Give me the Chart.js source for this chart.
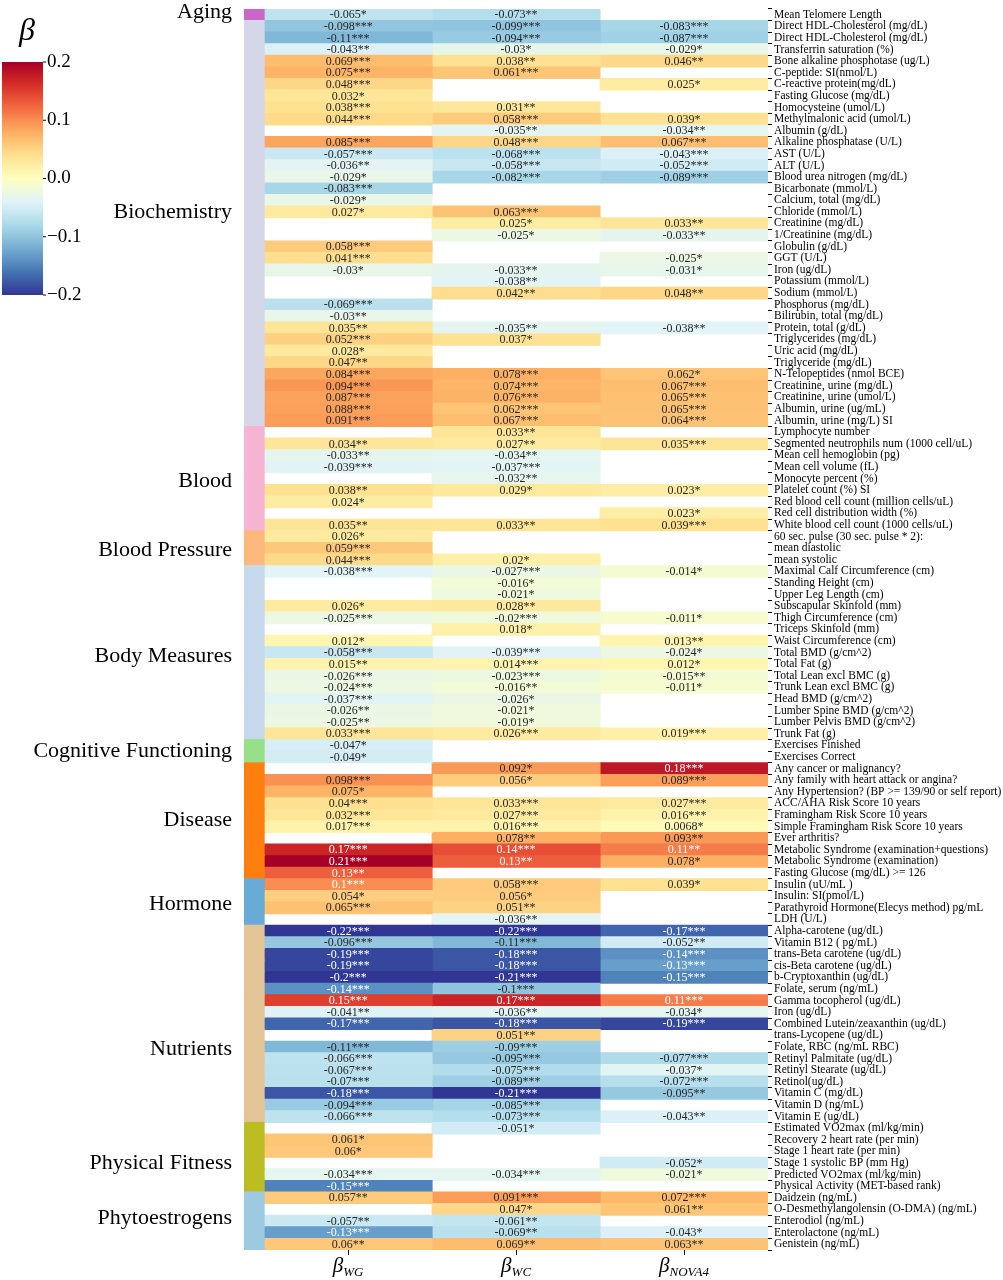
<!DOCTYPE html>
<html><head><meta charset="utf-8">
<script src="https://cdn.jsdelivr.net/npm/chart.js@4.4.0/dist/chart.umd.min.js"></script>
<style>html,body{margin:0;padding:0;background:#fff}#wrap{position:relative;width:1003px;height:1280px}</style>
</head><body><div id="wrap"><canvas id="c"></canvas></div>
<script>
const labels = ['Mean Telomere Length','Direct HDL-Cholesterol (mg/dL)','Direct HDL-Cholesterol (mg/dL)','Transferrin saturation (%)','Bone alkaline phosphotase (ug/L)','C-peptide: SI(nmol/L)','C-reactive protein(mg/dL)','Fasting Glucose (mg/dL)','Homocysteine (umol/L)','Methylmalonic acid (umol/L)',
'Albumin (g/dL)','Alkaline phosphatase (U/L)','AST (U/L)','ALT (U/L)','Blood urea nitrogen (mg/dL)','Bicarbonate (mmol/L)','Calcium, total (mg/dL)','Chloride (mmol/L)','Creatinine (mg/dL)','1/Creatinine (mg/dL)',
'Globulin (g/dL)','GGT (U/L)','Iron (ug/dL)','Potassium (mmol/L)','Sodium (mmol/L)','Phosphorus (mg/dL)','Bilirubin, total (mg/dL)','Protein, total (g/dL)','Triglycerides (mg/dL)','Uric acid (mg/dL)',
'Triglyceride (mg/dL)','N-Telopeptides (nmol BCE)','Creatinine, urine (mg/dL)','Creatinine, urine (umol/L)','Albumin, urine (ug/mL)','Albumin, urine (mg/L) SI',
'Lymphocyte number','Segmented neutrophils num (1000 cell/uL)','Mean cell hemoglobin (pg)','Mean cell volume (fL)','Monocyte percent (%)','Platelet count (%) SI','Red blood cell count (million cells/uL)','Red cell distribution width (%)','White blood cell count (1000 cells/uL)',
'60 sec. pulse (30 sec. pulse * 2):','mean diastolic','mean systolic',
'Maximal Calf Circumference (cm)','Standing Height (cm)','Upper Leg Length (cm)','Subscapular Skinfold (mm)','Thigh Circumference (cm)','Triceps Skinfold (mm)','Waist Circumference (cm)','Total BMD (g/cm^2)','Total Fat (g)','Total Lean excl BMC (g)','Trunk Lean excl BMC (g)','Head BMD (g/cm^2)','Lumber Spine BMD (g/cm^2)','Lumber Pelvis BMD (g/cm^2)','Trunk Fat (g)',
'Exercises Finished','Exercises Correct',
'Any cancer or malignancy?','Any family with heart attack or angina?','Any Hypertension? (BP >= 139/90 or self report)','ACC/AHA Risk Score 10 years','Framingham Risk Score 10 years','Simple Framingham Risk Score 10 years','Ever arthritis?','Metabolic Syndrome (examination+questions)','Metabolic Syndrome (examination)','Fasting Glucose (mg/dL) >= 126',
'Insulin (uU/mL )','Insulin: SI(pmol/L)','Parathyroid Hormone(Elecys method) pg/mL','LDH (U/L)',
'Alpha-carotene (ug/dL)','Vitamin B12 ( pg/mL)','trans-Beta carotene (ug/dL)','cis-Beta carotene (ug/dL)','b-Cryptoxanthin (ug/dL)','Folate, serum (ng/mL)','Gamma tocopherol (ug/dL)','Iron (ug/dL)','Combined Lutein/zeaxanthin (ug/dL)','trans-Lycopene (ug/dL)','Folate, RBC (ng/mL RBC)','Retinyl Palmitate (ug/dL)','Retinyl Stearate (ug/dL)','Retinol(ug/dL)','Vitamin C (mg/dL)','Vitamin D (ng/mL)','Vitamin E (ug/dL)',
'Estimated VO2max (ml/kg/min)','Recovery 2 heart rate (per min)','Stage 1 heart rate (per min)','Stage 1 systolic BP (mm Hg)','Predicted VO2max (ml/kg/min)','Physical Activity (MET-based rank)',
'Daidzein (ng/mL)','O-Desmethylangolensin (O-DMA) (ng/mL)','Enterodiol (ng/mL)','Enterolactone (ng/mL)','Genistein (ng/mL)'];

const groupNames = ['Aging','Biochemistry','Blood','Blood Pressure','Body Measures','Cognitive Functioning','Disease','Hormone','Nutrients','Physical Fitness','Phytoestrogens'];
const groupSizes = [1,35,9,3,15,2,10,4,17,6,5];

const columnNames = ['WG','WC','NOVA4'];

const wgValues = [-0.065,-0.098,-0.11,-0.043,0.069,0.075,0.048,0.032,0.038,0.044,
null,0.085,-0.057,-0.036,-0.029,-0.083,-0.029,0.027,null,null,
0.058,0.041,-0.03,null,null,-0.069,-0.03,0.035,0.052,0.028,
0.047,0.084,0.094,0.087,0.088,0.091,
null,0.034,-0.033,-0.039,null,0.038,0.024,null,0.035,
0.026,0.059,0.044,
-0.038,null,null,0.026,-0.025,null,0.012,-0.058,0.015,-0.026,-0.024,-0.037,-0.026,-0.025,0.033,
-0.047,-0.049,
null,0.098,0.075,0.04,0.032,0.017,null,0.17,0.21,0.13,
0.1,0.054,0.065,null,
-0.22,-0.096,-0.19,-0.19,-0.2,-0.14,0.15,-0.041,-0.17,null,-0.11,-0.066,-0.067,-0.07,-0.18,-0.094,-0.066,
null,0.061,0.06,null,-0.034,-0.15,
0.057,null,-0.057,-0.13,0.06];
const wgStars = ['*','***','***','**','***','***','***','*','***','***',
'','***','***','**','*','***','*','*','','',
'***','***','*','','','***','**','**','***','*',
'**','***','***','***','***','***',
'','**','**','***','','**','*','','**',
'*','***','***',
'***','','','*','***','','*','***','**','***','***','***','**','**','***',
'*','*',
'','***','*','***','***','***','','***','***','**',
'***','*','***','',
'***','***','***','***','***','***','***','**','***','','***','***','***','***','***','***','***',
'','*','*','','***','***',
'**','','**','***','**'];

const wcValues = [-0.073,-0.099,-0.094,-0.03,0.038,0.061,null,null,0.031,0.058,
-0.035,0.048,-0.068,-0.058,-0.082,null,null,0.063,0.025,-0.025,
null,null,-0.033,-0.038,0.042,null,null,-0.035,0.037,null,
null,0.078,0.074,0.076,0.062,0.067,
0.033,0.027,-0.034,-0.037,-0.032,0.029,null,null,0.033,
null,null,0.02,
-0.027,-0.016,-0.021,0.028,-0.02,0.018,null,-0.039,0.014,-0.023,-0.016,-0.026,-0.021,-0.019,0.026,
null,null,
0.092,0.056,null,0.033,0.027,0.016,0.078,0.14,0.13,null,
0.058,0.056,0.051,-0.036,
-0.22,-0.11,-0.18,-0.18,-0.21,-0.1,0.17,-0.036,-0.18,0.051,-0.09,-0.095,-0.075,-0.089,-0.21,-0.085,-0.073,
-0.051,null,null,null,-0.034,null,
0.091,0.047,-0.061,-0.069,0.069];
const wcStars = ['**','***','***','*','**','***','','','**','***',
'**','***','***','***','***','','','***','*','*',
'','','**','**','**','','','**','*','',
'','***','***','***','***','***',
'**','**','**','***','**','*','','','**',
'','','*',
'***','*','*','**','***','*','','***','***','***','**','*','*','*','***',
'','',
'*','*','','***','***','***','**','***','**','',
'***','*','**','**',
'***','***','***','***','***','***','***','**','***','**','***','***','***','***','***','***','***',
'*','','','','***','',
'***','*','**','**','**'];

const nova4Values = [null,-0.083,-0.087,-0.029,0.046,null,0.025,null,null,0.039,
-0.034,0.067,-0.043,-0.052,-0.089,null,null,null,0.033,-0.033,
null,-0.025,-0.031,null,0.048,null,null,-0.038,null,null,
null,0.062,0.067,0.065,0.065,0.064,
null,0.035,null,null,null,0.023,null,0.023,0.039,
null,null,null,
-0.014,null,null,null,-0.011,null,0.013,-0.024,0.012,-0.015,-0.011,null,null,null,0.019,
null,null,
0.18,0.089,null,0.027,0.016,0.0068,0.093,0.11,0.078,null,
0.039,null,null,null,
-0.17,-0.052,-0.14,-0.13,-0.15,null,0.11,-0.034,-0.19,null,null,-0.077,-0.037,-0.072,-0.095,null,-0.043,
null,null,null,-0.052,-0.021,null,
0.072,0.061,null,-0.043,0.063];
const nova4Stars = ['','***','***','*','**','','*','','','*',
'**','***','***','***','***','','','','**','**',
'','*','*','','**','','','**','','',
'','*','***','***','***','***',
'','***','','','','*','','*','***',
'','','',
'*','','','','*','','**','*','*','**','*','','','','***',
'','',
'***','***','','***','***','*','**','**','*','',
'*','','','',
'***','**','***','***','***','','***','*','***','','','***','*','***','**','','**',
'','','','*','*','',
'***','**','','*','**'];

const colorbarTicks = [0.2, 0.1, 0.0, -0.1, -0.2];

// ---- styling ----
const groupColors = ['#c966c6','#d6d6e9','#f5b5d2','#fdb97c','#c6d8ec','#98df8a','#ff7f0e','#67abd6','#e3c597','#bcbd22','#9ecae1'];
const groupLabelOffsets = [-2,-11,3,2,4,0,-1,2,25,6,-3];
const stops = ['#313695','#4575b4','#74add1','#abd9e9','#e0f3f8','#ffffbf','#fee090','#fdae61','#f46d43','#d73027','#a50026'].map(h=>[parseInt(h.slice(1,3),16),parseInt(h.slice(3,5),16),parseInt(h.slice(5,7),16)]);
const VMIN=-0.2, VMAX=0.2;
function cmapRGB(v){
  let t=(v-VMIN)/(VMAX-VMIN); t=Math.max(0,Math.min(1,t));
  const p=t*10; const i=Math.min(9,Math.floor(p)); const f=p-i;
  return [0,1,2].map(k=>stops[i][k]+(stops[i+1][k]-stops[i][k])*f);
}
function cmap(v){const c=cmapRGB(v);return `rgb(${c.map(x=>Math.round(x)).join(',')})`;}
function lum(c){const l=c.map(x=>{x/=255;return x<=0.03928?x/12.92:Math.pow((x+0.055)/1.055,2.4);});return 0.2126*l[0]+0.7152*l[1]+0.0722*l[2];}

const rowGroup=[]; groupSizes.forEach((n,g)=>{for(let k=0;k<n;k++)rowGroup.push(g);});
const cols=[{v:wgValues,s:wgStars},{v:wcValues,s:wcStars},{v:nova4Values,s:nova4Stars}];
const STRIP=-0.12;
const SERIF="'Liberation Serif','Times New Roman',serif";

const datasets=[{
  label:'group', data:labels.map(()=>[STRIP,0]),
  backgroundColor:rowGroup.map(g=>groupColors[g]),
}];
cols.forEach((c,j)=>{
  datasets.push({label:columnNames[j], data:c.v.map(v=>v==null?null:[j,j+1]),
    backgroundColor:c.v.map(v=>v==null?'rgba(0,0,0,0)':cmap(v))});
});

const overlay={
  id:'overlay',
  afterDatasetsDraw(chart){
    const ctx=chart.ctx, xs=chart.scales.x, ys=chart.scales.y;
    ctx.save();
    ctx.font=`12px ${SERIF}`; ctx.textAlign='center'; ctx.textBaseline='middle';
    cols.forEach((c,j)=>{
      const cx=xs.getPixelForValue(j+0.5);
      c.v.forEach((v,i)=>{
        if(v==null)return;
        ctx.fillStyle=lum(cmapRGB(v))>0.408?'#262626':'#ffffff';
        ctx.fillText(String(v)+c.s[i],cx,ys.getPixelForValue(i)+0.5);
      });
    });
    ctx.font=`22px ${SERIF}`; ctx.textAlign='right'; ctx.fillStyle='#000';
    let start=0;
    groupSizes.forEach((n,g)=>{
      const y=(ys.getPixelForValue(start)+ys.getPixelForValue(start+n-1))/2+groupLabelOffsets[g];
      ctx.fillText(groupNames[g],232,y);
      start+=n;
    });
    ctx.textBaseline='alphabetic';
    columnNames.forEach((n,j)=>{
      const cx=xs.getPixelForValue(j+0.5);
      ctx.font=`italic 21px ${SERIF}`; const w1=ctx.measureText('β').width;
      ctx.font=`italic 13px ${SERIF}`; const w2=ctx.measureText(n).width;
      const x0=cx-(w1+w2)/2;
      ctx.textAlign='left';
      ctx.font=`italic 21px ${SERIF}`; ctx.fillText('β',x0,1272);
      ctx.font=`italic 13px ${SERIF}`; ctx.fillText(n,x0+w1,1276);
    });
    const cbTop=62, cbBot=295, cbL=2, cbR=43;
    const grad=ctx.createLinearGradient(0,cbBot,0,cbTop);
    for(let k=0;k<=40;k++){const v=VMIN+(VMAX-VMIN)*k/40; grad.addColorStop(k/40,cmap(v));}
    ctx.fillStyle=grad; ctx.fillRect(cbL,cbTop,cbR-cbL,cbBot-cbTop);
    ctx.fillStyle='#000'; ctx.strokeStyle='#000'; ctx.lineWidth=1;
    ctx.font=`19px ${SERIF}`; ctx.textAlign='left'; ctx.textBaseline='middle';
    colorbarTicks.forEach(t=>{
      const y=cbBot-(t-VMIN)/(VMAX-VMIN)*(cbBot-cbTop);
      ctx.beginPath(); ctx.moveTo(cbR,y); ctx.lineTo(cbR+3,y); ctx.stroke();
      const s=(t<0?'\u2212':'')+Math.abs(t).toFixed(1);
      ctx.fillText(s,cbR+4,y);
    });
    ctx.font=`italic 32px ${SERIF}`; ctx.textAlign='center';
    ctx.fillText('β',27,32);
    ctx.restore();
  }
};

new Chart(document.getElementById('c'),{
  type:'bar',
  data:{labels, datasets},
  options:{
    indexAxis:'y', responsive:true, maintainAspectRatio:false, animation:false,
    layout:{padding:{left:244,top:4,right:0,bottom:0}},
    datasets:{bar:{grouped:false,barPercentage:1,categoryPercentage:1,borderWidth:0,inflateAmount:0.5}},
    plugins:{legend:{display:false},tooltip:{enabled:false}},
    scales:{
      x:{type:'linear',min:STRIP,max:3,position:'bottom',
        afterBuildTicks:s=>{s.ticks=[0.5,1.5,2.5].map(v=>({value:v}));},
        ticks:{callback:()=>'' ,autoSkip:false},
        grid:{drawOnChartArea:false,drawTicks:true,tickLength:5,color:'#000'},
        border:{display:false},
        afterFit:s=>{s.height=30;}},
      y:{type:'category',position:'right',
        ticks:{autoSkip:false,font:{family:SERIF,size:11.5},color:'#000',padding:2},
        grid:{drawOnChartArea:false,drawTicks:true,tickLength:4,color:'#000'},
        border:{display:false},
        afterFit:s=>{s.width=235;}}
    }
  },
  plugins:[overlay]
});
</script></body></html>
